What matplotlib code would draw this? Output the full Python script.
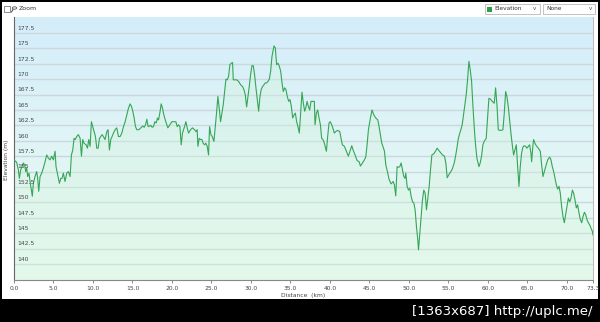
import numpy as np
import matplotlib
matplotlib.use('Agg')
import matplotlib.pyplot as plt
from matplotlib.patches import Rectangle, Circle
from matplotlib.lines import Line2D

# elevation profile
dist_km = [0.0, 0.34, 0.55, 0.68, 0.85, 1.01, 1.18, 1.35, 1.48, 1.61, 1.73, 1.90, 2.03, 2.20, 2.32, 2.45,
           2.66, 2.87, 3.00, 3.13, 3.30, 3.51, 3.72, 3.93, 4.14, 4.35, 4.56, 4.77, 4.99, 5.20, 5.32, 5.49,
           5.75, 5.92, 6.08, 6.25, 6.46, 6.68, 6.89, 7.10, 7.27, 7.44, 7.60, 7.77, 7.94, 8.15, 8.37, 8.54,
           8.70, 8.87, 9.13, 9.30, 9.46, 9.63, 9.80, 9.97, 10.14, 10.31, 10.48, 10.65, 10.82, 10.99, 11.15,
           11.32, 11.53, 11.75, 11.91, 12.08, 12.25, 12.42, 12.59, 12.80, 13.01, 13.22, 13.44, 13.65, 13.86,
           14.07, 14.28, 14.49, 14.70, 14.87, 15.04, 15.21, 15.38, 15.55, 15.80, 16.06, 16.31, 16.48, 16.65,
           16.82, 16.98, 17.15, 17.32, 17.49, 17.66, 17.83, 18.00, 18.17, 18.30,
           18.50, 18.63, 18.80, 18.97, 19.22, 19.48, 19.73, 19.98, 20.24, 20.49, 20.66, 20.83, 21.00, 21.17,
           21.33, 21.59, 21.76, 21.93, 22.10, 22.35, 22.60, 22.86, 23.02, 23.19, 23.28, 23.45, 23.62, 23.79,
           23.95, 24.12, 24.29, 24.46, 24.63, 24.76, 24.93, 25.09, 25.31, 25.48, 25.64, 25.81, 25.98, 26.15,
           26.32, 26.49, 26.66, 26.83, 27.00, 27.17, 27.33, 27.50, 27.67, 27.76, 27.93, 28.18, 28.43, 28.69,
           28.94, 29.11, 29.28, 29.45, 29.62, 29.78, 29.95, 30.12, 30.29, 30.46, 30.63, 30.80, 30.97, 31.14,
           31.31, 31.47, 31.64, 31.81, 31.98, 32.15, 32.32, 32.49, 32.66, 32.91, 33.08, 33.25, 33.42, 33.59,
           33.76, 33.93, 34.09, 34.26, 34.43, 34.60, 34.77, 34.94, 35.11, 35.28, 35.45, 35.62, 35.78, 35.95,
           36.12, 36.29, 36.46, 36.63,
           36.80, 36.93, 37.10, 37.26, 37.43, 37.60, 37.77, 38.02, 38.11, 38.28, 38.45, 38.62, 38.79, 38.95,
           39.12, 39.29, 39.55, 39.71, 39.88, 40.05, 40.31, 40.56, 40.73, 40.98, 41.24, 41.40, 41.57, 41.83,
           42.08, 42.33, 42.59, 42.76, 42.93, 43.18, 43.43, 43.69, 43.86, 44.11, 44.36, 44.53, 44.70, 44.87,
           45.12, 45.33, 45.55, 45.80, 46.05, 46.22, 46.39, 46.56, 46.73, 46.90, 47.07, 47.32, 47.49, 47.74,
           48.00, 48.16, 48.33, 48.50, 48.67, 48.84, 49.01, 49.18, 49.35, 49.52, 49.60, 49.77, 49.94, 50.11,
           50.28, 50.45, 50.62, 50.78, 50.95, 51.12, 51.21, 51.38, 51.54, 51.71, 51.88, 52.05, 52.22, 52.39,
           52.56, 52.73, 52.90, 53.15, 53.40, 53.57, 53.74, 53.99, 54.25, 54.50, 54.67, 54.84,
           55.05, 55.26, 55.48, 55.73, 55.90, 56.07, 56.24, 56.40, 56.57, 56.74, 56.91, 57.08, 57.25, 57.42,
           57.59, 57.76, 57.93, 58.09, 58.26, 58.43, 58.60, 58.86, 59.02, 59.19, 59.36, 59.53, 59.78, 59.95,
           60.12, 60.29, 60.55, 60.80, 60.97, 61.14, 61.31, 61.47, 61.73, 61.90, 62.07, 62.24, 62.40, 62.57,
           62.74, 62.91, 63.08, 63.25, 63.42, 63.59, 63.76, 63.93, 64.09, 64.26, 64.43, 64.60, 64.77, 64.94,
           65.11, 65.28, 65.45, 65.53, 65.70, 65.78, 65.95, 66.12, 66.38, 66.63, 66.80, 66.97, 67.14, 67.31,
           67.56, 67.81, 67.98, 68.15, 68.32, 68.49, 68.66, 68.83, 69.00, 69.16, 69.33, 69.50, 69.67, 69.84,
           70.01, 70.18, 70.35, 70.52, 70.69, 70.85, 71.02, 71.19, 71.36, 71.53, 71.70, 71.87, 72.04, 72.21,
           72.38, 72.54, 72.71, 72.88, 73.05, 73.22, 73.30]
elev_m = [156.9, 156.5, 155.3, 153.9, 155.3, 155.8, 156.4, 156.1, 155.0, 155.6, 154.2, 154.75, 153.4, 152.0, 151.0, 153.1,
          154.2, 155.0, 153.9, 151.8, 154.2, 154.75, 155.6, 156.6, 157.7, 157.2, 156.9, 157.5, 156.9, 158.3, 155.8, 154.75,
          153.1, 153.9, 153.9, 154.75, 153.4, 154.75, 155.0, 154.2, 157.7, 158.5, 160.4, 160.2, 160.7, 161.0, 160.4, 157.5,
          160.2, 159.6, 159.35, 158.8, 160.2, 159.1, 163.1, 162.3, 161.5, 160.7, 158.8, 158.8, 160.4, 160.7, 161.0,
          160.7, 160.2, 161.5, 161.8, 158.5, 160.2, 160.7, 161.25, 161.8, 162.1, 160.7, 160.7, 161.25, 162.3,
          163.1, 164.2, 165.3, 166.0, 165.6, 164.8, 163.7, 162.3, 161.8, 161.8, 162.1, 162.4, 162.2, 162.6,
          163.5, 162.3, 162.4, 162.5, 162.2, 162.3, 163.1, 162.9, 163.7, 163.4,
          164.8, 166.0, 165.3, 164.2, 163.1, 162.1, 162.6, 163.1, 163.1, 163.1, 162.3, 162.6, 162.3, 159.35,
          161.25, 162.3, 163.1, 162.1, 161.25, 161.8, 162.1, 161.8, 161.5, 161.8, 159.1, 160.4, 160.2, 160.2,
          159.6, 159.35, 159.6, 159.1, 157.7, 162.3, 161.0, 160.7, 159.9, 162.3, 164.5, 167.2, 165.3, 163.1,
          164.5, 165.85, 168.0, 170.0, 169.9, 170.5, 172.35, 172.6, 172.7, 169.9, 169.9, 169.9, 169.65, 169.1,
          168.8, 168.3, 167.5, 165.5, 167.2, 168.8, 170.7, 172.2, 172.2, 170.7, 168.6, 166.7, 164.8, 167.2,
          168.4, 168.8, 169.1, 169.4, 169.4, 169.65, 170.0, 171.3, 173.7, 175.4, 175.1, 172.35, 172.6, 172.1,
          171.3, 169.4, 168.0, 168.6, 168.3, 167.2, 166.4, 166.7, 165.6, 163.7, 164.2, 164.5, 163.1, 162.3,
          161.25, 164.5, 167.9, 166.1,
          164.8, 165.3, 166.4, 165.6, 165.0, 166.4, 166.4, 166.4, 162.6, 164.5, 165.0, 163.7, 162.6, 160.4,
          160.2, 159.6, 158.3, 160.7, 162.9, 163.1, 162.3, 161.25, 161.5, 161.7, 161.5, 160.4, 159.35, 159.1,
          158.3, 157.5, 158.5, 159.2, 158.5, 157.7, 156.8, 156.6, 155.9, 156.4, 156.9, 157.35, 159.35, 161.8,
          163.7, 165.0, 164.2, 163.7, 163.4, 162.3, 161.0, 159.6, 159.0, 158.3, 156.1, 154.75, 153.7, 153.0,
          153.4, 152.85, 151.06, 155.8, 155.7, 155.8, 156.4, 155.3, 154.2, 153.9, 154.75, 152.6, 152.0, 152.3,
          150.96, 150.1, 149.9, 148.8, 146.1, 143.9, 142.3, 145.0, 147.7, 150.4, 152.0, 151.5, 148.8, 150.7,
          152.6, 155.3, 157.7, 157.9, 158.4, 158.8, 158.5, 158.1, 157.7, 157.5, 156.4, 154.0,
          154.5, 154.9, 155.4, 156.4, 157.5, 158.8, 160.3, 161.1, 161.8, 162.6, 164.2, 165.85, 167.5, 169.9,
          172.9, 171.5, 169.65, 165.85, 162.3, 159.35, 157.2, 155.8, 156.4, 157.5, 159.35, 159.9, 160.4, 163.7,
          166.9, 166.8, 166.4, 166.1, 168.6, 165.85, 161.8, 161.7, 161.7, 161.8, 164.5, 168.0, 167.2, 165.6,
          163.4, 161.25, 159.35, 157.7, 158.5, 159.35, 155.8, 152.6, 155.8, 158.0, 159.0, 159.2, 159.1, 158.8,
          159.1, 159.35, 157.9, 156.6, 159.35, 160.2, 159.6, 159.2, 158.8, 158.3, 156.1, 154.2, 155.0, 155.8,
          156.9, 157.35, 156.9, 155.8, 155.0, 153.9, 152.85, 152.15, 152.6, 151.5, 149.3, 147.7, 146.7, 148.0,
          149.3, 150.7, 150.1, 150.7, 152.0, 151.5, 150.4, 149.1, 149.6, 148.25, 147.2, 146.7, 147.7, 148.4,
          148.0, 147.2, 146.7, 146.35, 145.8, 145.3, 144.7]

y_ticks = [140, 142.5, 145, 147.5, 150, 152.5, 155, 157.5, 160, 162.5, 165, 167.5, 170, 172.5, 175, 177.5]
x_ticks = [0, 5, 10, 15, 20, 25, 30, 35, 40, 45, 50, 55, 60, 65, 70, 73.3]

W, H = 600, 322

def fx(px):
    return px / W

def fy(py):
    return 1 - py / H

fig = plt.figure(figsize=(6, 3.22), dpi=100, facecolor='black')

# white panel behind everything
fig.patches.append(Rectangle((fx(2), fy(299)), fx(596), 297 / H, facecolor='white', edgecolor='none',
                             transform=fig.transFigure, figure=fig, zorder=-10))

# toolbar
fig.add_artist(Rectangle((fx(4), fy(12)), fx(6), 6 / H, facecolor='white', edgecolor='#777777', lw=0.6))
fig.add_artist(Circle((fx(14.5), fy(8)), 2.2 / W, facecolor='none', edgecolor='#555555', lw=0.6))
fig.add_artist(Line2D([fx(13), fx(11.5)], [fy(9.5), fy(12)], color='#555555', lw=0.8))
fig.text(fx(19), fy(8.5), 'Zoom', fontsize=4.5, va='center', ha='left', color='#333333')
fig.add_artist(Rectangle((fx(485), fy(14)), fx(55), 10 / H, facecolor='white', edgecolor='#aaaaaa', lw=0.5))
fig.add_artist(Rectangle((fx(487), fy(12)), fx(5), 5 / H, facecolor='#2e9c4e', edgecolor='none'))
fig.text(fx(494), fy(9), 'Elevation', fontsize=4.2, va='center', ha='left', color='#333333')
fig.text(fx(534), fy(9), 'v', fontsize=4, va='center', ha='center', color='#555555')
fig.add_artist(Rectangle((fx(543), fy(14)), fx(52), 10 / H, facecolor='white', edgecolor='#aaaaaa', lw=0.5))
fig.text(fx(546), fy(9), 'None', fontsize=4.2, va='center', ha='left', color='#333333')
fig.text(fx(590), fy(9), 'v', fontsize=4, va='center', ha='center', color='#555555')

ax = fig.add_axes([fx(14), fy(280), fx(593 - 14), (280 - 17) / H])
ax.set_xlim(0, 73.3)
ax.set_ylim(137.4, 180.1)

# gradient background, light blue at top to pale green at bottom
top = np.array([0.83, 0.93, 0.98])
bot = np.array([0.93, 0.99, 0.95])
t = np.linspace(0, 1, 256)[:, None]
grad = (top * (1 - t) + bot * t)[:, None, :]
ax.imshow(grad, extent=[0, 73.3, 137.4, 180.1], aspect='auto', zorder=0)

for v in y_ticks:
    ax.axhline(v, color='#cbd7dc', lw=1.0, zorder=1)
    ax.text(0.4, v + 0.35, '%g' % v, fontsize=4.3, color='#444444', va='bottom', ha='left', zorder=4)

ax.fill_between(dist_km, elev_m, 137.4, color='#d2f3dc', alpha=0.35, lw=0, zorder=2)
ax.plot(dist_km, elev_m, color='#35a655', lw=0.8, zorder=3)

ax.set_yticks([])
ax.set_xticks(x_ticks)
ax.set_xticklabels(['%.1f' % v for v in x_ticks], fontsize=4.3, color='#444444')
ax.tick_params(axis='x', length=2, width=0.6, color='#777777', pad=2)
for s in ['top', 'right']:
    ax.spines[s].set_visible(False)
ax.spines['left'].set_color('#666666')
ax.spines['left'].set_linewidth(0.8)
ax.spines['bottom'].set_color('#888888')
ax.spines['bottom'].set_linewidth(0.8)
ax.set_xlabel('Distance  (km)', fontsize=4.3, color='#444444', labelpad=1.5)
fig.text(fx(7), fy(160), 'Elevation (m)', fontsize=4.3, color='#444444', rotation=90, va='center', ha='center')

# right border of plot area
fig.add_artist(Rectangle((fx(593), fy(280)), fx(1), 263 / H, facecolor='#bbbbbb', edgecolor='none'))

fig.text(fx(593), fy(311), '[1363x687] http://uplc.me/', fontsize=9.5, color='white', va='center', ha='right')

fig.savefig('out.png', dpi=100, facecolor='black')
